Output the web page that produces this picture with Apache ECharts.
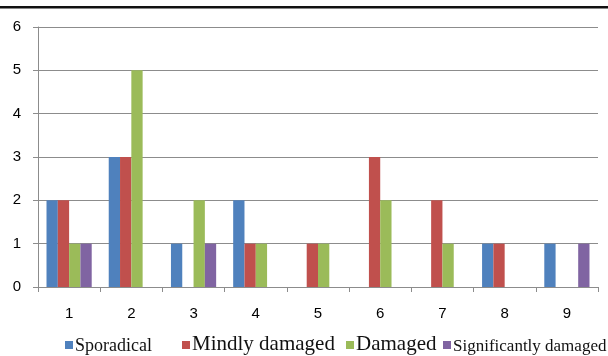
<!DOCTYPE html>
<html>
<head>
<meta charset="utf-8">
<script src="https://cdn.jsdelivr.net/npm/echarts@6/dist/echarts.min.js"></script>
<style>
  html, body { margin: 0; padding: 0; background: #fff; }
  #chart { width: 608px; height: 356px; }
</style>
</head>
<body>
<div id="chart"></div>
<script>
// Survey categories along the x axis
const categories = ['1', '2', '3', '4', '5', '6', '7', '8', '9'];

// Counts per damage class
const sporadical = [2, 3, 1, 2, 0, 0, 0, 1, 1];
const mindlyDamaged = [2, 3, 0, 1, 1, 3, 2, 1, 0];
const damaged = [1, 5, 2, 1, 1, 2, 1, 0, 0];
const significantlyDamaged = [1, 0, 1, 0, 0, 0, 0, 0, 1];

const seriesNames = ['Sporadical', 'Mindly damaged', 'Damaged', 'Significantly damaged'];
const seriesValues = [sporadical, mindlyDamaged, damaged, significantlyDamaged];
const colors = ['#4F81BD', '#C0504D', '#9BBB59', '#8064A2'];

// Hand-placed legend entries (each label uses its own size)
const legendX = [65, 182, 346, 443];
const legendFont = [18, 21, 21, 17];
const serifFamily = '"Liberation Serif", serif';

const chart = echarts.init(document.getElementById('chart'), null, { renderer: 'canvas' });

const legendGraphics = [];
seriesNames.forEach((name, i) => {
  legendGraphics.push({
    type: 'rect',
    shape: { x: legendX[i], y: 341, width: 8, height: 8 },
    style: { fill: colors[i] }
  });
  legendGraphics.push({
    type: 'text',
    x: legendX[i] + 10,
    y: 355,
    style: {
      text: name,
      fontFamily: serifFamily,
      fontSize: legendFont[i],
      fontWeight: 'normal',
      fontStyle: 'normal',
      fill: '#111',
      verticalAlign: 'bottom',
      align: 'left'
    }
  });
});

chart.setOption({
  animation: false,
  backgroundColor: '#fff',
  grid: { left: 38, right: 10, top: 27, bottom: 69, containLabel: false },
  xAxis: {
    type: 'category',
    data: categories,
    axisLine: { lineStyle: { color: '#8c8c8c', width: 1 } },
    axisTick: { show: true, length: 5, lineStyle: { color: '#8c8c8c' } },
    axisLabel: {
      color: '#000',
      fontFamily: 'Liberation Sans',
      fontSize: 15,
      margin: 19
    }
  },
  yAxis: {
    type: 'value',
    min: 0,
    max: 6,
    interval: 1,
    axisLine: { show: true, lineStyle: { color: '#8c8c8c', width: 1 } },
    axisTick: { show: true, length: 5, lineStyle: { color: '#8c8c8c' } },
    splitLine: { show: true, lineStyle: { color: '#8c8c8c', width: 1 } },
    axisLabel: {
      color: '#000',
      fontFamily: 'Liberation Sans',
      fontSize: 15,
      margin: 17
    }
  },
  series: seriesNames.map((name, i) => ({
    name: name,
    type: 'bar',
    data: seriesValues[i],
    barWidth: 11.3,
    barGap: '0%',
    itemStyle: { color: colors[i] }
  })),
  graphic: [
    {
      type: 'rect',
      shape: { x: 0, y: 6, width: 608, height: 2.5 },
      style: { fill: '#111' }
    }
  ].concat(legendGraphics)
});
</script>
</body>
</html>
